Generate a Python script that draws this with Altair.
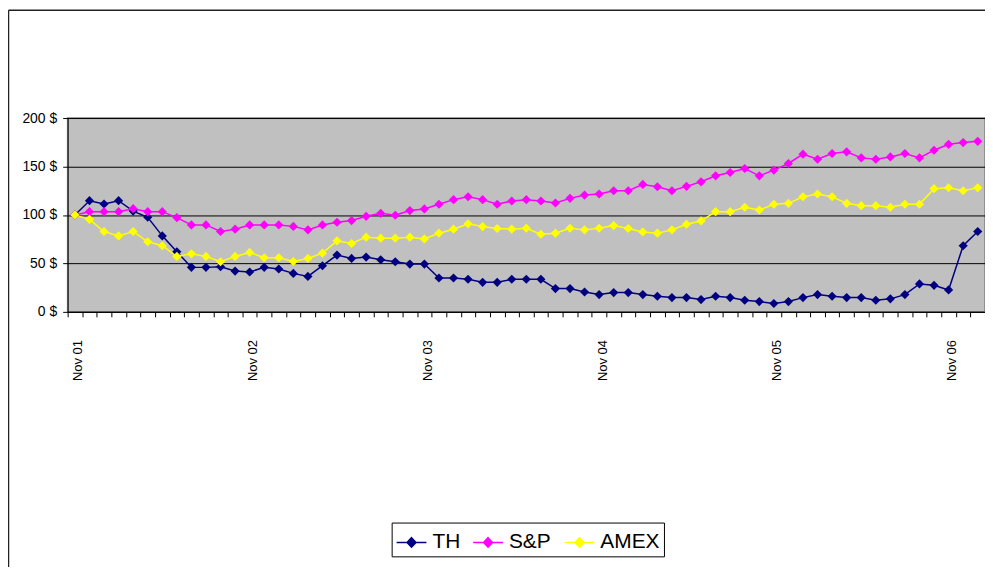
import altair as alt
import pandas as pd

months = [
    "Nov 01", "Dec 01",
    "Jan 02", "Feb 02", "Mar 02", "Apr 02", "May 02", "Jun 02", "Jul 02", "Aug 02", "Sep 02", "Oct 02", "Nov 02", "Dec 02",
    "Jan 03", "Feb 03", "Mar 03", "Apr 03", "May 03", "Jun 03", "Jul 03", "Aug 03", "Sep 03", "Oct 03", "Nov 03", "Dec 03",
    "Jan 04", "Feb 04", "Mar 04", "Apr 04", "May 04", "Jun 04", "Jul 04", "Aug 04", "Sep 04", "Oct 04", "Nov 04", "Dec 04",
    "Jan 05", "Feb 05", "Mar 05", "Apr 05", "May 05", "Jun 05", "Jul 05", "Aug 05", "Sep 05", "Oct 05", "Nov 05", "Dec 05",
    "Jan 06", "Feb 06", "Mar 06", "Apr 06", "May 06", "Jun 06", "Jul 06", "Aug 06", "Sep 06", "Oct 06", "Nov 06", "Dec 06",
    "Jan 07",
]

th = [100, 114.7, 111.3, 114.7, 104, 97.6, 78.4, 62, 45.9, 45.9, 46.6, 42.1, 41.1, 45.9, 44.2, 39.7,
      36.6, 47.6, 58.6, 55.1, 56.5, 53.8, 51.7, 49.3, 49.3, 34.9, 34.9, 33.6, 30.5, 30.5, 33.6,
      33.6, 33.6, 24, 24, 20.5, 17.8, 19.9, 19.9, 17.8, 16.1, 14.7, 14.7, 12.7, 16.1, 14.7,
      12, 10.6, 8.6, 10.6, 14.7, 17.8, 16.1, 14.7, 14.7, 12, 13.4, 17.8, 28.8, 27.4, 22.6, 68.2, 82.9]

sp = [100, 103.4, 103.4, 103.4, 106.5, 103.4, 103.4, 97.3, 89.7, 89.7, 82.9, 85.3, 89.7, 89.7, 89.7, 88.2,
      84.6, 89.7, 92.5, 94.2, 98.6, 101.7, 99.7, 104.5, 106.2, 111, 115.8, 118.8, 115.8, 111, 114.4,
      115.8, 114.4, 112.3, 117.1, 120.5, 121.6, 125, 125, 131.5, 129.1, 125, 129.5, 134.2, 140.4, 143.8,
      147.9, 140.4, 146.2, 153.1, 162.7, 157.5, 163.4, 165.1, 158.9, 157.5, 159.9, 163.4, 158.9, 166.8, 172.9, 174.7, 176]

amex = [100, 95.5, 82.9, 78.4, 82.9, 72.3, 68.2, 57.2, 59.9, 57.2, 51.7, 57.2, 61.3, 55.8, 55.8, 52,
        55.1, 60.6, 73.3, 70.5, 77.1, 76, 76, 77.1, 75.3, 81.2, 85.3, 90.8, 88, 86, 85.3,
        86.3, 80.1, 81.2, 86.3, 84.6, 86.3, 89, 86, 82.5, 81.2, 84.6, 90.4, 93.8, 103.4, 103.4,
        107.9, 105.1, 111, 112, 118.8, 121.6, 118.8, 112, 109.6, 109.6, 107.9, 111, 111, 127.1, 128.1, 125, 128.1]

series_names = ["TH", "S&P", "AMEX"]
series_colors = ["#000080", "#FF00FF", "#FFFF00"]

rows = []
for name, vals in zip(series_names, [th, sp, amex]):
    for i, (m, v) in enumerate(zip(months, vals)):
        rows.append({"month": m, "idx": i, "value": v, "series": name})
df = pd.DataFrame(rows)

FONT = "Liberation Sans Narrow, Arial Narrow, Liberation Sans, sans-serif"
W, H = 923, 195
N = len(months)
STEP = W / N

# band boundaries for ticks; labels are shifted to the band centres
boundaries = [i - 0.5 for i in range(N + 1)]
label_js = "[" + ",".join("'" + (m if m.startswith("Nov") else "") + "'" for m in months) + ",'']"

scale = alt.Scale(domain=series_names, range=series_colors)
legend_path = "M-1,0L1,0M0,-0.32L0.3,0L0,0.32L-0.3,0Z"
legend = alt.Legend(
    title=None, orient="none", legendX=326, legendY=407, direction="horizontal",
    symbolType=legend_path, symbolSize=900, symbolStrokeWidth=1.5,
    labelFont=FONT, labelFontSize=21, labelColor="#000000", labelOffset=5,
    columnPadding=10, padding=4, strokeColor="#000000", fillColor="#FFFFFF",
)

x_enc = alt.X(
    "idx:Q", title=None,
    scale=alt.Scale(domain=[-0.5, N - 0.5], nice=False, zero=False),
    axis=alt.Axis(
        values=boundaries, labelAngle=270, labelAlign="right", labelBaseline="middle",
        labelExpr=label_js + "[round(datum.value + 0.5)]",
        labelFont=FONT, labelFontSize=13, labelColor="#000000", labelPadding=23,
        labelOffset=STEP / 2 + 3, tickSize=5, tickColor="#000000", domainColor="#000000",
        grid=False, labelOverlap=False, labelFlush=False,
    ),
)
y_enc = alt.Y(
    "value:Q", title=None,
    scale=alt.Scale(domain=[0, 200], nice=False),
    axis=alt.Axis(
        values=[0, 50, 100, 150, 200], labelExpr="datum.value + ' $'",
        labelFont=FONT, labelFontSize=14, labelColor="#000000", labelPadding=6,
        tickSize=5, tickColor="#000000", domainColor="#000000",
        grid=True, gridColor="#000000", gridWidth=1,
    ),
)

base = alt.Chart(df)
lines = base.mark_line(strokeWidth=1.5).encode(
    x=x_enc, y=y_enc,
    color=alt.Color("series:N", scale=scale, legend=legend),
)
points = base.mark_point(shape="diamond", filled=True, size=85, opacity=1).encode(
    x=x_enc, y=y_enc,
    color=alt.Color("series:N", scale=scale, legend=legend),
)

frame_df = pd.DataFrame({"a": [0]})
frame_top = alt.Chart(frame_df).mark_rule(color="#222222", strokeWidth=1.5).encode(
    x=alt.value(-59.5), x2=alt.value(W + 5), y=alt.value(-108.5)
)
frame_left = alt.Chart(frame_df).mark_rule(color="#222222", strokeWidth=1.5).encode(
    x=alt.value(-59.5), y=alt.value(-108.5), y2=alt.value(460)
)

chart = alt.layer(lines, points, frame_top, frame_left).properties(
    width=W, height=H,
    autosize=alt.AutoSizeParams(type="none"),
    padding={"left": 60, "top": 109, "right": 0, "bottom": 255},
    background="#FFFFFF",
).configure_view(
    fill="#C0C0C0", stroke="#808080", strokeWidth=1.5,
)

chart.save("out.html", embed_options={"renderer": "svg", "actions": False})
